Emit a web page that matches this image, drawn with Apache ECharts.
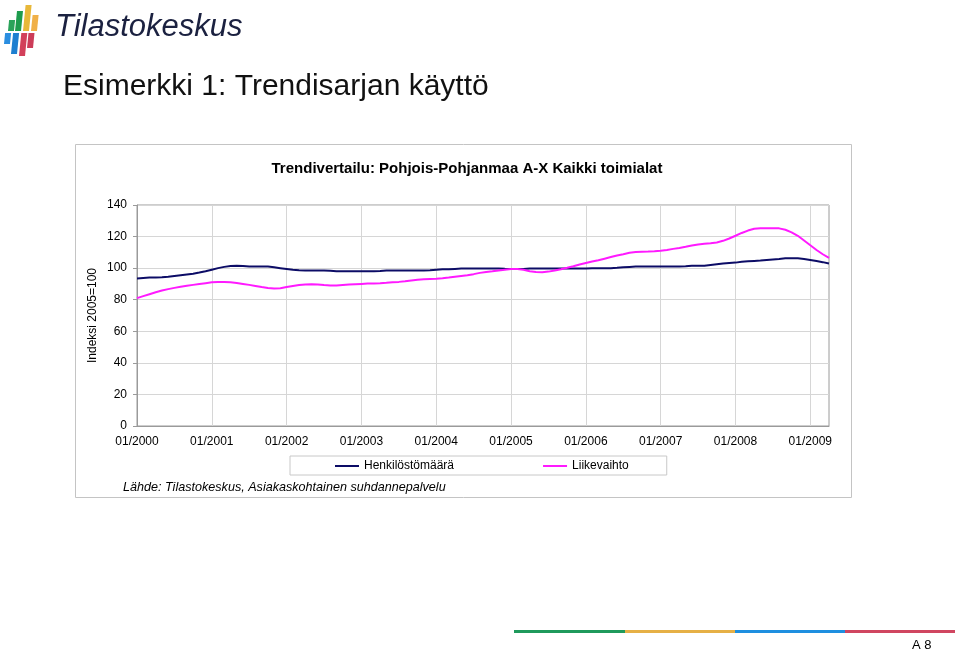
<!DOCTYPE html>
<html>
<head>
<meta charset="utf-8">
<script src="https://cdn.jsdelivr.net/npm/echarts@6/dist/echarts.min.js"></script>
<style>
  html, body { margin: 0; padding: 0; background: #fff; }
  #main { width: 960px; height: 650px; }
</style>
</head>
<body>
<div id="main"></div>
<script>
'use strict';

// kuukaudet 01/2000 - 04/2009
const startYear = 2000;
const monthCount = 112;
const months = [];
for (let i = 0; i < monthCount; i++) {
    const m = (i % 12) + 1;
    const y = startYear + Math.floor(i / 12);
    months.push((m < 10 ? '0' + m : '' + m) + '/' + y);
}

// Henkilöstömäärä (indeksi 2005=100)
const henkilosto = [
    93.5, 93.8, 94, 94, 94.2, 94.5, 95, 95.5, 96, 96.5, 97.2, 98,
    99, 100, 100.8, 101.3, 101.5, 101.3, 101, 101, 101, 101, 100.5, 100,
    99.5, 99, 98.7, 98.5, 98.5, 98.5, 98.5, 98.3, 98, 98, 98, 98,
    98, 98, 98, 98.2, 98.5, 98.5, 98.5, 98.5, 98.5, 98.5, 98.5, 98.7,
    99, 99.3, 99.3, 99.5, 99.7, 99.7, 99.7, 99.8, 99.8, 99.8, 99.8, 99.6,
    99.5, 99.5, 99.5, 99.7, 99.8, 99.8, 99.8, 99.8, 99.8, 99.8, 99.8, 99.8,
    99.8, 100, 100, 100, 100, 100.2, 100.5, 100.8, 101, 101, 101, 101,
    101, 101, 101, 101, 101.2, 101.5, 101.5, 101.5, 102, 102.5, 103, 103.3,
    103.5, 104, 104.3, 104.6, 104.8, 105.2, 105.5, 105.8, 106.2, 106.3, 106.2, 105.8,
    105.2, 104.5, 103.8, 103
];

// Liikevaihto (indeksi 2005=100)
const liikevaihto = [
    81, 82.3, 83.5, 84.7, 85.8, 86.7, 87.5, 88.2, 88.8, 89.4, 90, 90.5,
    91, 91.2, 91.2, 91, 90.6, 90, 89.4, 88.7, 88, 87.4, 87.1, 87.3,
    88, 88.7, 89.3, 89.7, 89.8, 89.7, 89.3, 89, 89, 89.3, 89.6, 89.8,
    90, 90.2, 90.3, 90.4, 90.7, 91.1, 91.3, 91.7, 92.2, 92.7, 93, 93.2,
    93.3, 93.6, 94, 94.5, 95, 95.5, 96.2, 97, 97.6, 98, 98.5, 99,
    99.4, 99.5, 99, 98, 97.5, 97.4, 97.8, 98.5, 99.3, 100.2, 101.2, 102.3,
    103.3, 104.2, 105, 106, 107, 108, 108.8, 109.7, 110.2, 110.4, 110.5, 110.7,
    111, 111.5, 112.2, 112.8, 113.5, 114.3, 115, 115.4, 115.8, 116.3, 117.3, 118.8,
    120.5, 122.3, 123.8, 125, 125.3, 125.3, 125.3, 125.2, 124.3, 122.7, 120.5, 117.5,
    114.5, 111.5, 108.8, 106.5
];

const seriesNames = ['Henkilöstömäärä', 'Liikevaihto'];
const seriesColors = ['#0c0c66', '#ff1aff'];

const font = 'Liberation Sans, Arial, sans-serif';

// logon raidat: [x, yTop, yBottom, väri]
const logoBars = [
    [8, 20, 31, '#2aa35a'], [15, 11, 31, '#1e9c4e'], [23, 5, 31, '#e8b83a'], [31, 15, 31, '#f0b048'],
    [4, 33, 44, '#2a8ee0'], [11, 33, 54, '#1e7fd0'], [19, 33, 56, '#d2405a'], [27, 33, 48, '#cc3c58']
];
const logoGraphics = logoBars.map(([x, y1, y2, c]) => {
    const slant = (y2 - y1) * 0.1;
    return {
        type: 'polygon',
        shape: { points: [[x + slant, y1], [x + slant + 6, y1], [x + 6, y2], [x, y2]] },
        style: { fill: c }
    };
});

const mChart = echarts.init(document.getElementById('main'), null, { renderer: 'canvas' });

const option = {
    backgroundColor: '#ffffff',
    animation: false,
    textStyle: { fontFamily: font },
    title: {
        text: 'Trendivertailu: Pohjois-Pohjanmaa A-X Kaikki toimialat',
        left: 462,
        textAlign: 'center',
        top: 156,
        textStyle: { fontSize: 15, fontWeight: 'bold', color: '#000', fontFamily: font }
    },
    grid: {
        left: 137,
        top: 205,
        width: 692,
        height: 221,
        show: true,
        borderColor: '#9a9a9a',
        borderWidth: 1,
        containLabel: false
    },
    legend: {
        left: 290,
        top: 456,
        padding: [4, 38, 3, 45],
        itemGap: 89,
        itemWidth: 24,
        itemHeight: 2,
        icon: 'rect',
        borderColor: '#c8c8c8',
        borderWidth: 1,
        borderRadius: 0,
        textStyle: { fontSize: 12, color: '#000', fontFamily: font },
        data: seriesNames
    },
    xAxis: {
        type: 'category',
        data: months,
        boundaryGap: false,
        axisLine: { lineStyle: { color: '#9a9a9a' } },
        axisTick: { show: false },
        axisLabel: { interval: 11, margin: 10, fontSize: 12, color: '#000', fontFamily: font },
        splitLine: { show: true, interval: 11, lineStyle: { color: '#d6d6d6', width: 1 } }
    },
    yAxis: {
        type: 'value',
        min: 0,
        max: 140,
        interval: 20,
        name: 'Indeksi 2005=100',
        nameLocation: 'middle',
        nameGap: 38,
        nameMoveOverlap: false,
        nameTextStyle: { fontSize: 12, color: '#000', fontFamily: font },
        axisLine: { show: true, lineStyle: { color: '#9a9a9a' } },
        axisTick: { show: true, length: 4, lineStyle: { color: '#9a9a9a' } },
        axisLabel: { margin: 10, fontSize: 12, color: '#000', fontFamily: font },
        splitLine: { show: true, lineStyle: { color: '#d6d6d6', width: 1 } }
    },
    series: [
        {
            name: seriesNames[0],
            type: 'line',
            data: henkilosto,
            showSymbol: false,
            symbol: 'none',
            lineStyle: { color: seriesColors[0], width: 2 },
            itemStyle: { color: seriesColors[0] }
        },
        {
            name: seriesNames[1],
            type: 'line',
            data: liikevaihto,
            showSymbol: false,
            symbol: 'none',
            lineStyle: { color: seriesColors[1], width: 2 },
            itemStyle: { color: seriesColors[1] }
        }
    ],
    graphic: [
        // kaavion kehys
        {
            type: 'rect', z: -10,
            shape: { x: 75.5, y: 144.5, width: 776, height: 353 },
            style: { fill: '#fff', stroke: '#c4c4c4', lineWidth: 1 }
        },
        // logo
        { type: 'group', children: logoGraphics },
        {
            type: 'text', left: 55, top: 12,
            style: { text: 'Tilastokeskus', font: 'italic 31px "Liberation Sans", Arial, sans-serif', fill: '#1b2140' }
        },
        // otsikko
        {
            type: 'text', left: 63, top: 72,
            style: { text: 'Esimerkki 1: Trendisarjan käyttö', font: '30px "Liberation Sans", Arial, sans-serif', fill: '#111' }
        },
        // lähde
        {
            type: 'text', left: 123, top: 481,
            style: { text: 'Lähde: Tilastokeskus, Asiakaskohtainen suhdannepalvelu', font: 'italic 12.6px "Liberation Sans", Arial, sans-serif', fill: '#000' }
        },
        // alareunan värit
        { type: 'rect', shape: { x: 514, y: 630, width: 111, height: 3 }, style: { fill: '#1f9a5c' } },
        { type: 'rect', shape: { x: 625, y: 630, width: 110, height: 3 }, style: { fill: '#e6b046' } },
        { type: 'rect', shape: { x: 735, y: 630, width: 110, height: 3 }, style: { fill: '#1e8fe0' } },
        { type: 'rect', shape: { x: 845, y: 630, width: 110, height: 3 }, style: { fill: '#d04660' } },
        {
            type: 'text', left: 912, top: 639,
            style: { text: 'A 8', font: '13px "Liberation Sans", Arial, sans-serif', fill: '#000' }
        }
    ]
};

mChart.setOption(option);
</script>
</body>
</html>
